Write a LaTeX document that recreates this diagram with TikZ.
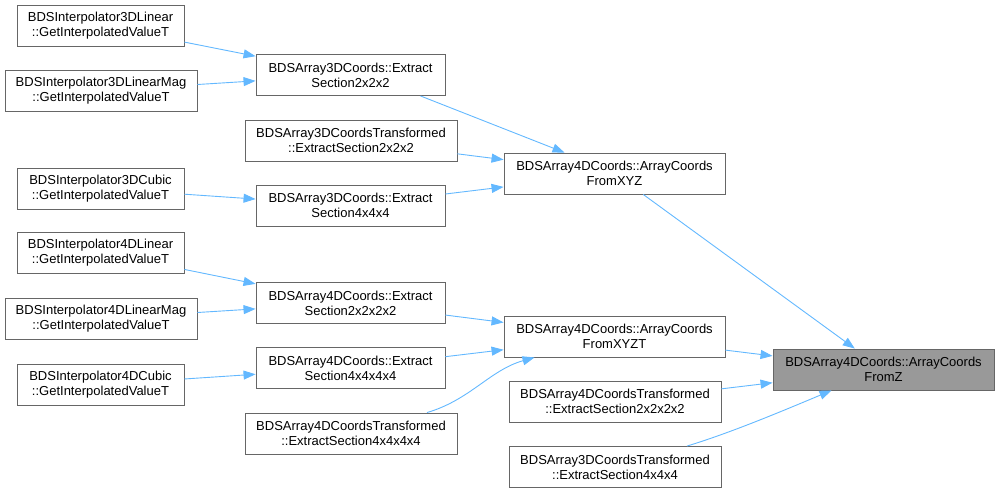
\documentclass[tikz,border=0pt]{standalone}
\usepackage{fontspec}
\setmainfont{Liberation Sans}
\usetikzlibrary{positioning, arrows.meta, calc}
\definecolor{edgeblue}{HTML}{63B8FF}
\definecolor{boxline}{HTML}{666666}
\definecolor{boxfill}{HTML}{999999}

\begin{document}
\begin{tikzpicture}[
    x=1pt, y=-1pt,
    >={Triangle[length=12pt, width=9pt]},
    box/.style={draw=boxline, rectangle, line width=0.9pt, minimum height=41pt, inner sep=0pt, align=center, fill=white, font=\fontsize{13}{15}\selectfont},
    hlbox/.style={box, fill=boxfill},
    edge/.style={->, draw=edgeblue, line width=0.9pt}
]
    \useasboundingbox (0,0) rectangle (999,493);

    % Nodes (left column)
    \node[box, minimum width=167pt] (l3lin) at (100.5,25.5) {BDSInterpolator3DLinear\\::GetInterpolatedValueT};
    \node[box, minimum width=192pt] (l3mag) at (101,90.5) {BDSInterpolator3DLinearMag\\::GetInterpolatedValueT};
    \node[box, minimum width=167pt] (l3cub) at (100.5,188.5) {BDSInterpolator3DCubic\\::GetInterpolatedValueT};
    \node[box, minimum width=167pt] (l4lin) at (100.5,252.5) {BDSInterpolator4DLinear\\::GetInterpolatedValueT};
    \node[box, minimum width=192pt] (l4mag) at (101,318.5) {BDSInterpolator4DLinearMag\\::GetInterpolatedValueT};
    \node[box, minimum width=167pt] (l4cub) at (100.5,384.5) {BDSInterpolator4DCubic\\::GetInterpolatedValueT};

    % Nodes (second column)
    \node[box, minimum width=189pt] (a3d2) at (350.5,75) {BDSArray3DCoords::Extract\\Section2x2x2};
    \node[box, minimum width=212pt] (a3dt2) at (351,140.5) {BDSArray3DCoordsTransformed\\::ExtractSection2x2x2};
    \node[box, minimum width=189pt] (a3d4) at (350.5,205.5) {BDSArray3DCoords::Extract\\Section4x4x4};
    \node[box, minimum width=189pt] (a4d2) at (350.5,303) {BDSArray4DCoords::Extract\\Section2x2x2x2};
    \node[box, minimum width=189pt] (a4d4) at (350.5,368) {BDSArray4DCoords::Extract\\Section4x4x4x4};
    \node[box, minimum width=212pt] (a4dt4) at (351,433.5) {BDSArray4DCoordsTransformed\\::ExtractSection4x4x4x4};

    % Nodes (third column)
    \node[box, minimum width=221pt] (xyz) at (614.5,173.5) {BDSArray4DCoords::ArrayCoords\\FromXYZ};
    \node[box, minimum width=221pt] (xyzt) at (614.5,336.5) {BDSArray4DCoords::ArrayCoords\\FromXYZT};
    \node[box, minimum width=212pt] (a4dt2) at (615,401.5) {BDSArray4DCoordsTransformed\\::ExtractSection2x2x2x2};
    \node[box, minimum width=212pt] (a3dt4) at (615,467) {BDSArray3DCoordsTransformed\\::ExtractSection4x4x4};

    % Target
    \node[hlbox, minimum width=221pt] (fromz) at (883.5,369.5) {BDSArray4DCoords::ArrayCoords\\FromZ};

    % Connections
    \draw[edge] (l3lin) -- (a3d2);
    \draw[edge] (l3mag) -- (a3d2);
    \draw[edge] (l3cub) -- (a3d4);
    \draw[edge] (l4lin) -- (a4d2);
    \draw[edge] (l4mag) -- (a4d2);
    \draw[edge] (l4cub) -- (a4d4);

    \draw[edge] ([xshift=70pt]a3d2.south) -- ([xshift=-50pt]xyz.north);
    \draw[edge] (a3dt2) -- (xyz);
    \draw[edge] (a3d4) -- (xyz);
    \draw[edge] (a4d2) -- (xyzt);
    \draw[edge] (a4d4) -- (xyzt);
    \draw[edge] ([xshift=76pt]a4dt4.north) .. controls (470,400) and (490,370) .. ([xshift=-80pt]xyzt.south);

    \draw[edge] (xyz) -- (fromz);
    \draw[edge] (xyzt) -- (fromz);
    \draw[edge] (a4dt2) -- (fromz);
    \draw[edge] ([xshift=72pt]a3dt4.north) .. controls (730,433) and (780,412) .. ([xshift=-52pt]fromz.south);

\end{tikzpicture}
\end{document}
